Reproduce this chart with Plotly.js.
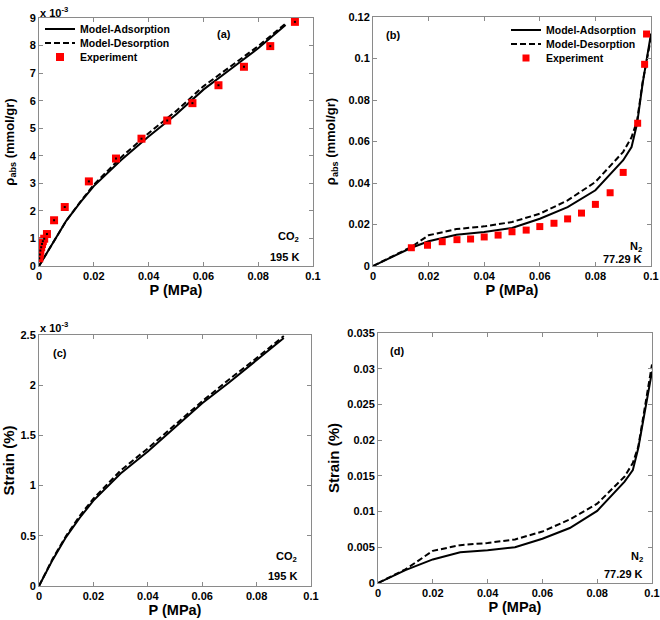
<!DOCTYPE html>
<html>
<head>
<meta charset="utf-8">
<script src="https://cdn.plot.ly/plotly-3.0.1.min.js"></script>
<style>html,body{margin:0;padding:0;background:#fff;}#chart{width:660px;height:620px;}</style>
</head>
<body>
<div id="chart"></div>
<script>
// ---------- Panel (a): CO2, 195 K, rho_abs (x 10^-3 mmol/gr) ----------
const P_a_model = [0, 0.005, 0.01, 0.015, 0.02, 0.03, 0.04, 0.05, 0.06, 0.07, 0.08, 0.09];
const rho_a_ads = [0, 0.85, 1.65, 2.3, 2.9, 3.85, 4.7, 5.5, 6.4, 7.15, 7.9, 8.75];
const rho_a_des = [0, 0.85, 1.65, 2.32, 2.95, 3.95, 4.82, 5.62, 6.52, 7.25, 7.98, 8.8];
const P_a_exp = [0.0001, 0.0003, 0.0005, 0.0008, 0.0011, 0.0014, 0.0019, 0.0029, 0.0055, 0.0094, 0.0182, 0.0281, 0.0374, 0.0468, 0.056, 0.0655, 0.0748, 0.0844, 0.0934];
const rho_a_exp = [0.28, 0.42, 0.56, 0.68, 0.80, 0.90, 0.99, 1.16, 1.66, 2.14, 3.07, 3.90, 4.62, 5.28, 5.91, 6.56, 7.23, 7.98, 8.86];

// ---------- Panel (b): N2, 77.29 K, rho_abs (mmol/gr) ----------
const P_b_model = [0, 0.01, 0.0138, 0.02, 0.03, 0.04, 0.05, 0.06, 0.07, 0.08, 0.09, 0.093, 0.095, 0.097, 0.099, 0.1];
const rho_b_ads = [0, 0.0063, 0.0088, 0.0119, 0.0151, 0.0164, 0.0183, 0.0228, 0.0284, 0.0365, 0.051, 0.0573, 0.0686, 0.088, 0.103, 0.112];
const rho_b_des = [0, 0.0065, 0.0092, 0.0148, 0.0178, 0.0191, 0.0212, 0.0252, 0.0316, 0.0405, 0.055, 0.062, 0.070, 0.0887, 0.102, 0.110];
const P_b_exp = [0.0138, 0.0196, 0.0249, 0.0302, 0.0351, 0.040, 0.045, 0.050, 0.0551, 0.060, 0.0651, 0.070, 0.075, 0.080, 0.0853, 0.090, 0.0952, 0.0977, 0.0984];
const rho_b_exp = [0.0088, 0.0100, 0.0117, 0.0127, 0.0130, 0.0140, 0.0149, 0.0165, 0.0173, 0.0190, 0.0206, 0.0227, 0.0255, 0.0297, 0.0353, 0.0451, 0.0688, 0.0972, 0.1118];

// ---------- Panel (c): CO2 strain (x 10^-3 %) ----------
const P_c_model = [0, 0.005, 0.01, 0.015, 0.02, 0.03, 0.04, 0.05, 0.06, 0.07, 0.08, 0.09];
const strain_c_ads = [0, 0.26, 0.49, 0.68, 0.85, 1.12, 1.34, 1.58, 1.82, 2.03, 2.25, 2.47];
const strain_c_des = [0, 0.27, 0.50, 0.70, 0.87, 1.15, 1.37, 1.61, 1.84, 2.06, 2.27, 2.49];

// ---------- Panel (d): N2 strain (%) ----------
const P_d_model = [0, 0.01, 0.02, 0.03, 0.04, 0.05, 0.06, 0.07, 0.08, 0.09, 0.093, 0.095, 0.1];
const strain_d_ads = [0, 0.0018, 0.0033, 0.0043, 0.0046, 0.0050, 0.0062, 0.0077, 0.0101, 0.0142, 0.0158, 0.0189, 0.0296];
const strain_d_des = [0, 0.0019, 0.0045, 0.0053, 0.0056, 0.0061, 0.0072, 0.0089, 0.0111, 0.0149, 0.0168, 0.0191, 0.0306];

// ---------- Tick labels ----------
const xTickVals = [0, 0.02, 0.04, 0.06, 0.08, 0.1];
const xTickText = ['0', '0.02', '0.04', '0.06', '0.08', '0.1'];
const yTickVals_a = [0, 1, 2, 3, 4, 5, 6, 7, 8, 9];
const yTickText_a = ['0', '1', '2', '3', '4', '5', '6', '7', '8', '9'];
const yTickVals_b = [0, 0.02, 0.04, 0.06, 0.08, 0.1, 0.12];
const yTickText_b = ['0', '0.02', '0.04', '0.06', '0.08', '0.1', '0.12'];
const yTickVals_c = [0, 0.5, 1, 1.5, 2, 2.5];
const yTickText_c = ['0', '0.5', '1', '1.5', '2', '2.5'];
const yTickVals_d = [0, 0.005, 0.01, 0.015, 0.02, 0.025, 0.03, 0.035];
const yTickText_d = ['0', '0.005', '0.01', '0.015', '0.02', '0.025', '0.03', '0.035'];

const FONT = 'Liberation Sans, Arial, sans-serif';
const W = 660, H = 620;
const px = v => v / W;
const py = v => 1 - v / H;

function line(x, y, dash, xa, ya, name, legend, showlegend) {
  return {x: x, y: y, type: 'scatter', mode: 'lines', xaxis: xa, yaxis: ya, name: name,
    legend: legend, showlegend: showlegend,
    line: {color: '#000', width: 2, dash: dash}};
}
const DASH = '6px,3px';

const traces = [
  line(P_a_model, rho_a_ads, 'solid', 'x', 'y', 'Model-Adsorption', 'legend', true),
  line(P_a_model, rho_a_des, DASH, 'x', 'y', 'Model-Desorption', 'legend2', true),
  {x: P_a_exp, y: rho_a_exp, type: 'scatter', mode: 'markers', xaxis: 'x', yaxis: 'y', name: 'Experiment',
    legend: 'legend3', marker: {symbol: 'square', size: 8, color: '#ff0000', line: {width: 0}}},
  {x: P_a_exp, y: rho_a_exp, type: 'scatter', mode: 'markers', xaxis: 'x', yaxis: 'y', showlegend: false,
    hoverinfo: 'skip', marker: {symbol: 'square', size: 2, color: '#000'}},

  line(P_b_model, rho_b_ads, 'solid', 'x2', 'y2', 'Model-Adsorption', 'legend4', true),
  line(P_b_model, rho_b_des, DASH, 'x2', 'y2', 'Model-Desorption', 'legend5', true),
  {x: P_b_exp, y: rho_b_exp, type: 'scatter', mode: 'markers', xaxis: 'x2', yaxis: 'y2', name: 'Experiment',
    legend: 'legend6', marker: {symbol: 'square', size: 7, color: '#ff0000', line: {width: 0}}},

  line(P_c_model, strain_c_ads, 'solid', 'x3', 'y3', 'Model-Adsorption', 'legend', false),
  line(P_c_model, strain_c_des, DASH, 'x3', 'y3', 'Model-Desorption', 'legend', false),

  line(P_d_model, strain_d_ads, 'solid', 'x4', 'y4', 'Model-Adsorption', 'legend', false),
  line(P_d_model, strain_d_des, DASH, 'x4', 'y4', 'Model-Desorption', 'legend', false)
];

function axis(domain, range, tv, tt, anchor, title, titleSize, standoff) {
  return {
    domain: domain, range: range, anchor: anchor,
    tickmode: 'array', tickvals: tv, ticktext: tt,
    showline: true, linecolor: '#8a8a8a', linewidth: 1, mirror: 'ticks',
    ticks: 'inside', ticklen: 4, tickcolor: '#8a8a8a', tickwidth: 1,
    showgrid: false, zeroline: false,
    tickfont: {family: FONT, size: 11, color: '#000', weight: 'bold'},
    title: {text: title, font: {family: FONT, size: titleSize, color: '#000', weight: 'bold'}, standoff: standoff}
  };
}

const rhoTitle = 'ρ<sub>abs</sub> (mmol/gr)';
const annFont = {family: FONT, size: 11, color: '#000', weight: 'bold'};

function leg(xp, yp) {
  return {x: px(xp), y: py(yp), xanchor: 'left', yanchor: 'middle', bgcolor: 'rgba(0,0,0,0)',
    borderwidth: 0, itemwidth: 30, tracegroupgap: 0,
    font: {family: FONT, size: 10.5, color: '#000', weight: 'bold'}};
}

const layout = {
  width: W, height: H,
  margin: {l: 0, r: 0, t: 0, b: 0},
  paper_bgcolor: '#fff', plot_bgcolor: '#fff',
  font: {family: FONT, color: '#000'},
  xaxis:  axis([px(39), px(313)], [0, 0.1], xTickVals, xTickText, 'y', 'P (MPa)', 14.5, 0),
  yaxis:  axis([py(266), py(18)], [0, 9], yTickVals_a, yTickText_a, 'x', rhoTitle, 13, 12),
  xaxis2: axis([px(373), px(651)], [0, 0.1], xTickVals, xTickText, 'y2', 'P (MPa)', 14.5, 0),
  yaxis2: axis([py(266), py(17)], [0, 0.12], yTickVals_b, yTickText_b, 'x2', rhoTitle, 13, 9),
  xaxis3: axis([px(39), px(311)], [0, 0.1], xTickVals, xTickText, 'y3', 'P (MPa)', 14.5, 0),
  yaxis3: axis([py(586), py(335)], [0, 2.5], yTickVals_c, yTickText_c, 'x3', 'Strain (%)', 15, 2),
  xaxis4: axis([px(378), px(652)], [0, 0.1], xTickVals, xTickText, 'y4', 'P (MPa)', 14.5, 0),
  yaxis4: axis([py(583), py(333)], [0, 0.035], yTickVals_d, yTickText_d, 'x4', 'Strain (%)', 15, 4),
  legend:  leg(40, 29),
  legend2: leg(40, 43),
  legend3: leg(40, 57),
  legend4: leg(506, 30),
  legend5: leg(506, 44),
  legend6: leg(506, 58),
  annotations: [
    {xref: 'paper', yref: 'paper', x: px(38), y: py(3), xanchor: 'left', yanchor: 'top', showarrow: false,
      text: 'x 10<sup>-3</sup>', font: annFont},
    {xref: 'paper', yref: 'paper', x: px(38), y: py(318), xanchor: 'left', yanchor: 'top', showarrow: false,
      text: 'x 10<sup>-3</sup>', font: annFont},
    {xref: 'x', yref: 'y', x: 0.0674, y: 8.41, showarrow: false, text: '(a)', font: annFont},
    {xref: 'x', yref: 'y', x: 0.0955, y: 1.04, xanchor: 'right', showarrow: false, text: 'CO<sub>2</sub>', font: annFont},
    {xref: 'x', yref: 'y', x: 0.0955, y: 0.34, xanchor: 'right', showarrow: false, text: '195 K', font: annFont},
    {xref: 'x2', yref: 'y2', x: 0.004, y: 0.1115, xanchor: 'left', showarrow: false, text: '(b)', font: annFont},
    {xref: 'x2', yref: 'y2', x: 0.0975, y: 0.0092, xanchor: 'right', showarrow: false, text: 'N<sub>2</sub>', font: annFont},
    {xref: 'x2', yref: 'y2', x: 0.0975, y: 0.0035, xanchor: 'right', showarrow: false, text: '77.29 K', font: annFont},
    {xref: 'x3', yref: 'y3', x: 0.0045, y: 2.32, xanchor: 'left', showarrow: false, text: '(c)', font: annFont},
    {xref: 'x3', yref: 'y3', x: 0.0955, y: 0.29, xanchor: 'right', showarrow: false, text: 'CO<sub>2</sub>', font: annFont},
    {xref: 'x3', yref: 'y3', x: 0.0955, y: 0.1, xanchor: 'right', showarrow: false, text: '195 K', font: annFont},
    {xref: 'x4', yref: 'y4', x: 0.0035, y: 0.0325, xanchor: 'left', showarrow: false, text: '(d)', font: annFont},
    {xref: 'x4', yref: 'y4', x: 0.0975, y: 0.0037, xanchor: 'right', showarrow: false, text: 'N<sub>2</sub>', font: annFont},
    {xref: 'x4', yref: 'y4', x: 0.0975, y: 0.0012, xanchor: 'right', showarrow: false, text: '77.29 K', font: annFont}
  ]
};

Plotly.newPlot('chart', traces, layout, {staticPlot: true, displayModeBar: false});
</script>
</body>
</html>
